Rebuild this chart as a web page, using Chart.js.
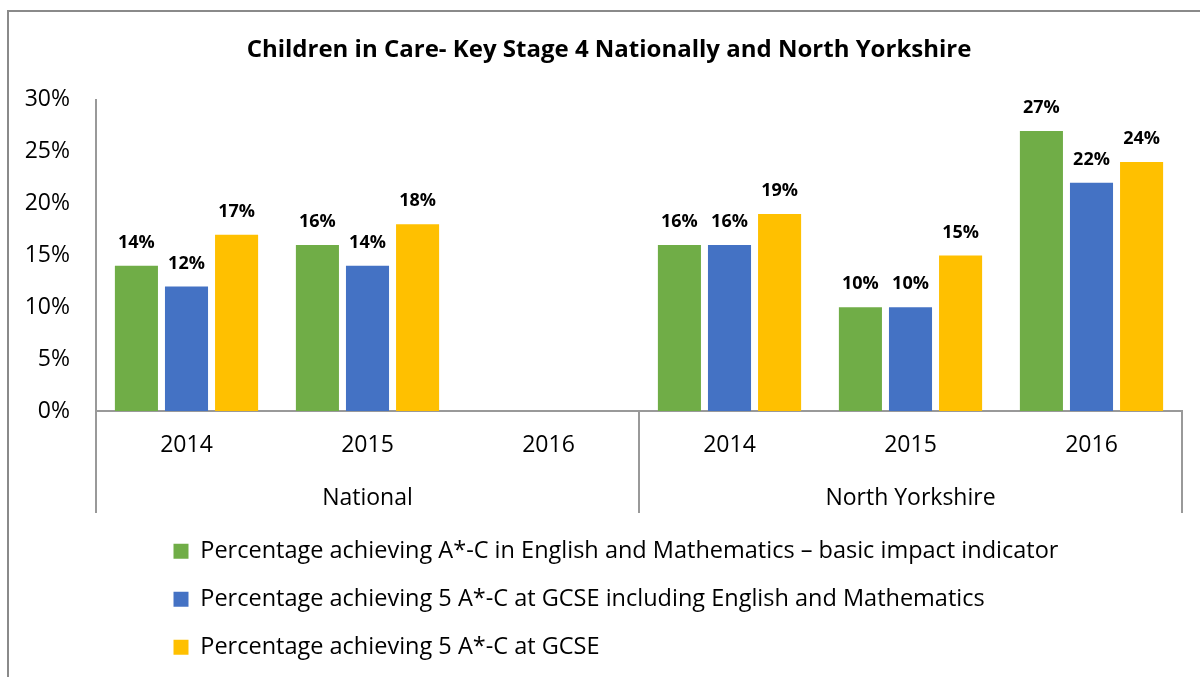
<!DOCTYPE html>
<html>
<head>
<meta charset="utf-8">
<script src="https://cdn.jsdelivr.net/npm/chart.js@4"></script>
<style>
  html, body { margin: 0; background: #fff; }
  #wrap { position: relative; width: 1200px; height: 677px; overflow: hidden; }
  #frame { position: absolute; left: 7px; top: 10px; width: 1300px; height: 800px;
           border-left: 2px solid #8a8a8a; border-top: 2px solid #8a8a8a; }
  canvas { position: absolute; left: 0; top: 0; }
</style>
</head>
<body>
<div id="wrap">
  <div id="frame"></div>
  <canvas id="chart" width="1200" height="677"></canvas>
</div>
<script>
// Children in Care - KS4, National vs North Yorkshire
const years = ['2014', '2015', '2016', '2014', '2015', '2016'];
const groups = ['National', 'North Yorkshire'];
const groupSize = 3;

const basicImpact = [14, 16, null, 16, 10, 27];
const fiveInclEngMaths = [12, 14, null, 16, 10, 22];
const fiveGcse = [17, 18, null, 19, 15, 24];

const seriesNames = [
  'Percentage achieving A*-C in English and Mathematics \u2013 basic impact indicator',
  'Percentage achieving 5 A*-C at GCSE including English and Mathematics',
  'Percentage achieving 5 A*-C at GCSE',
];

const FONT = 'Open Sans';
const AXIS_GREY = '#999999';

const barLabels = {
  id: 'barLabels',
  afterDatasetsDraw(chart) {
    const ctx = chart.ctx;
    ctx.save();
    ctx.font = `bold 18px ${FONT}`;
    ctx.fillStyle = '#000';
    ctx.textAlign = 'center';
    ctx.textBaseline = 'middle';
    chart.data.datasets.forEach((ds, i) => {
      chart.getDatasetMeta(i).data.forEach((bar, j) => {
        const v = ds.data[j];
        if (v == null) return;
        ctx.fillText(v + '%', bar.x, bar.y - 23);
      });
    });
    ctx.restore();
  },
};

// second level of the category axis + separators
const groupAxis = {
  id: 'groupAxis',
  afterDraw(chart) {
    const { ctx, chartArea } = chart;
    const x = chart.scales.x;
    const bottom = x.bottom - 2;
    ctx.save();
    ctx.strokeStyle = AXIS_GREY;
    ctx.lineWidth = 2;
    ctx.font = `23px ${FONT}`;
    ctx.fillStyle = '#000';
    ctx.textAlign = 'center';
    ctx.textBaseline = 'middle';
    const edges = [];
    for (let g = 0; g <= groups.length; g++) edges.push(x.getPixelForValue(g * groupSize - 0.5));
    edges.forEach(px => {
      ctx.beginPath();
      ctx.moveTo(px, chartArea.bottom);
      ctx.lineTo(px, bottom);
      ctx.stroke();
    });
    groups.forEach((name, g) => {
      ctx.fillText(name, (edges[g] + edges[g + 1]) / 2, chartArea.bottom + 87);
    });
    ctx.restore();
  },
};

const nudge = {
  id: 'nudge',
  afterLayout(chart) {
    chart.legend.left += 149;
    chart.legend.right += 149;
    chart.titleBlock.left += 18;
    chart.titleBlock.right += 18;
  },
};

new Chart(document.getElementById('chart').getContext('2d'), {
  type: 'bar',
  data: {
    labels: years,
    datasets: [
      { label: seriesNames[0], data: basicImpact, backgroundColor: '#70AD47' },
      { label: seriesNames[1], data: fiveInclEngMaths, backgroundColor: '#4472C4' },
      { label: seriesNames[2], data: fiveGcse, backgroundColor: '#FFC000' },
    ],
  },
  options: {
    responsive: false, animation: false,
    layout: { padding: { left: 0, right: 18, top: 0, bottom: 8 } },
    datasets: { bar: { categoryPercentage: 0.83, barPercentage: 0.86, borderWidth: 0 } },
    scales: {
      x: {
        grid: { display: false, drawTicks: false },
        border: { display: true, color: AXIS_GREY, width: 2 },
        ticks: { color: '#000', padding: 21, font: { family: FONT, size: 23 } },
        afterFit(s) { s.height = 104; },
      },
      y: {
        min: 0, max: 30,
        grid: { display: false, drawTicks: false },
        border: { display: true, color: AXIS_GREY, width: 2 },
        ticks: { stepSize: 5, color: '#000', padding: 26, font: { family: FONT, size: 23 }, callback: v => v + '%' },
        afterFit(s) { s.width = 96; },
      },
    },
    plugins: {
      title: {
        display: true,
        text: 'Children in Care- Key Stage 4 Nationally and North Yorkshire',
        color: '#000',
        font: { family: FONT, size: 24, weight: 'bold' },
        padding: { top: 36, bottom: 35 },
      },
      legend: {
        position: 'bottom', align: 'start',
        labels: { color: '#000', font: { family: FONT, size: 23.5 }, boxWidth: 15, boxHeight: 15, padding: 24.5 },
      },
      tooltip: { enabled: false },
    },
  },
  plugins: [barLabels, groupAxis, nudge],
});
</script>
</body>
</html>
